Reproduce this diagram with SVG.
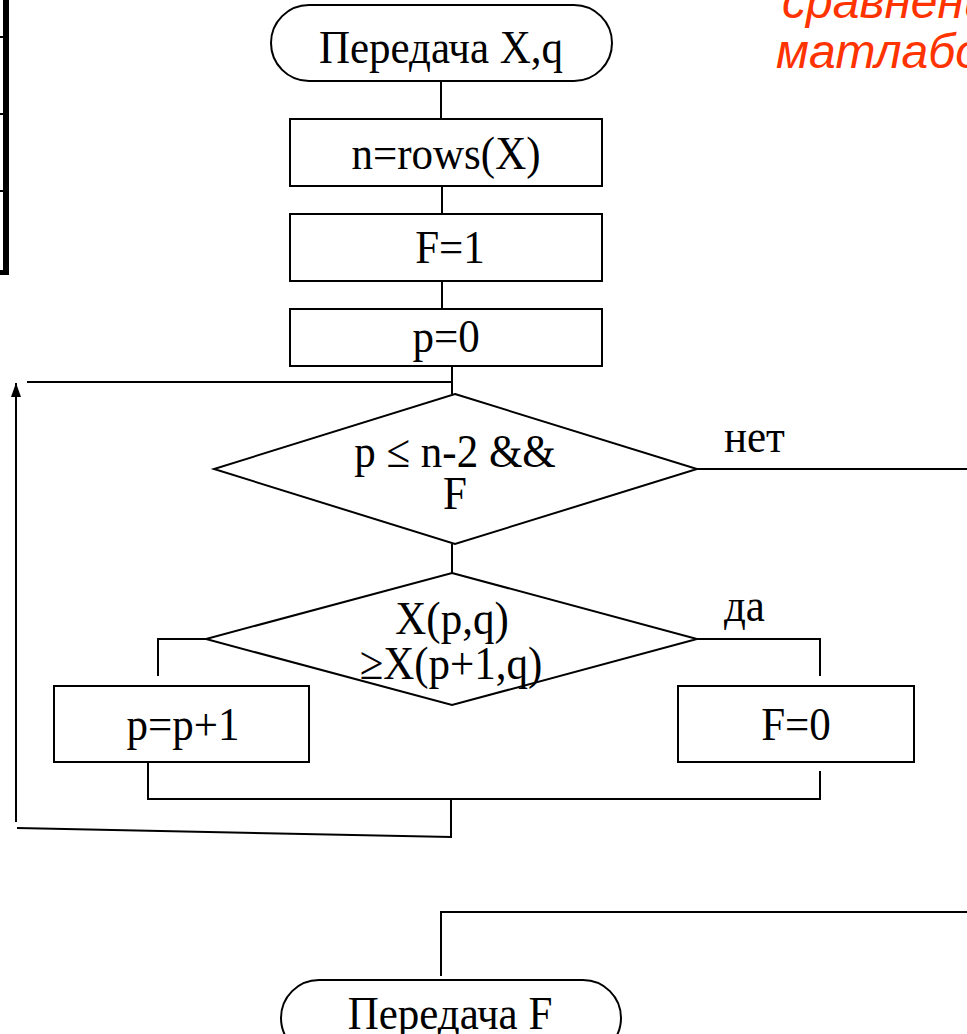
<svg xmlns="http://www.w3.org/2000/svg" width="967" height="1034" viewBox="0 0 967 1034">
<defs>
<marker id="arr" markerWidth="14" markerHeight="10" refX="14" refY="5" orient="auto" markerUnits="userSpaceOnUse" viewBox="0 0 14 10">
<path d="M0,0 L14,5 L0,10 Z" fill="#000"/>
</marker>
</defs>
<style>
.s{fill:#fff;stroke:#000;stroke-width:2}
.c{fill:none;stroke:#000;stroke-width:2}
.t{font-family:'Liberation Serif',serif;font-size:43px;fill:#000;text-anchor:middle}
.l{font-family:'Liberation Serif',serif;font-size:43px;fill:#000}
.r{font-family:'Liberation Sans',sans-serif;font-style:italic;font-size:48px;fill:#ff3300}
</style>
<rect width="967" height="1034" fill="#fff"/>
<g id="table-fragment">
<rect x="3" y="0" width="6" height="274" fill="#000"/>
<rect x="0" y="270" width="9" height="5" fill="#000"/>
<line x1="0" y1="37" x2="6" y2="37" stroke="#000" stroke-width="2"/>
<line x1="0" y1="114" x2="6" y2="114" stroke="#000" stroke-width="2"/>
<line x1="0" y1="191" x2="6" y2="191" stroke="#000" stroke-width="2"/>
</g>
<g id="note">
<text class="r" x="782" y="18">сравнени</text>
<text class="r" x="776" y="68">матлабо</text>
</g>
<g id="connectors">
<line class="c" x1="441" y1="81" x2="441" y2="119"/>
<line class="c" x1="442" y1="186" x2="442" y2="214"/>
<line class="c" x1="442" y1="281" x2="442" y2="309"/>
<line class="c" x1="452" y1="366" x2="452" y2="394"/>
<line class="c" x1="452" y1="382" x2="27" y2="382"/>
<line class="c" x1="16" y1="822" x2="16" y2="383" marker-end="url(#arr)"/>
<line class="c" x1="452" y1="544" x2="452" y2="573"/>
<line class="c" x1="697" y1="469" x2="967" y2="469"/>
<polyline class="c" points="206,639 158,639 158,676"/>
<polyline class="c" points="697,639 820,639 820,676"/>
<polyline class="c" points="148,762 148,799 820,799 820,771"/>
<polyline class="c" points="451,799 451,837 17,828"/>
<polyline class="c" points="967,912 441,912 441,976"/>
</g>
<g id="start">
<rect class="s" x="271" y="5" width="341" height="76" rx="38" ry="38"/>
<text class="t" transform="translate(441 63) scale(1 1.1)">Передача X,q</text>
</g>
<g id="n-rows">
<rect class="s" x="290" y="119" width="312" height="67"/>
<text class="t" transform="translate(446 169) scale(1 1.1)">n=rows(X)</text>
</g>
<g id="f1">
<rect class="s" x="290" y="214" width="312" height="67"/>
<text class="t" transform="translate(450 263) scale(1 1.1)">F=1</text>
</g>
<g id="p0">
<rect class="s" x="290" y="309" width="312" height="57"/>
<text class="t" transform="translate(446 352) scale(1 1.1)">p=0</text>
</g>
<g id="cond1">
<polygon class="s" points="455,394 697,469 455,544 214,469"/>
<text class="t" transform="translate(455 467) scale(1 1.1)">p ≤ n-2 &amp;&amp;</text>
<text class="t" transform="translate(455 509) scale(1 1.1)">F</text>
</g>
<g id="cond2">
<polygon class="s" points="452,573 697,639 452,705 206,639"/>
<text class="t" transform="translate(452 634) scale(1 1.1)">X(p,q)</text>
<text class="t" transform="translate(451 679) scale(1 1.1)">≥X(p+1,q)</text>
</g>
<g id="inc">
<rect class="s" x="54" y="686" width="255" height="76"/>
<text class="t" transform="translate(183 740) scale(1 1.1)">p=p+1</text>
</g>
<g id="f0">
<rect class="s" x="678" y="686" width="236" height="76"/>
<text class="t" transform="translate(796 740) scale(1 1.1)">F=0</text>
</g>
<g id="labels">
<text class="l" transform="translate(724 452) scale(1 1.1)">нет</text>
<text class="l" transform="translate(724 621) scale(1 1.1)">да</text>
</g>
<g id="end">
<rect class="s" x="281" y="980" width="340" height="76" rx="38" ry="38"/>
<text class="t" transform="translate(450 1029) scale(1 1.1)">Передача F</text>
</g>
</svg>
